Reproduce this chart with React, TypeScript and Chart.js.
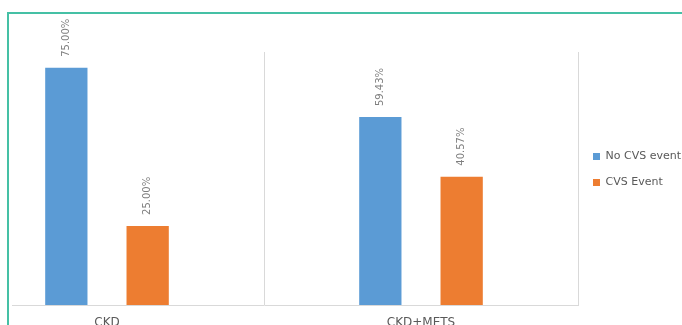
import { useEffect, useRef } from 'react';
import { Chart, registerables } from 'chart.js';

Chart.register(...registerables);

const categories = ['CKD', 'CKD+METS'];
const seriesNames = ['No CVS event', 'CVS Event'];
const noCvsEvent = [75.0, 59.43];
const cvsEvent = [25.0, 40.57];
const yMin = 0;
const yMax = 80;

const FONT = '"DejaVu Sans", "Noto Sans", sans-serif';

const valueLabels = {
  id: 'valueLabels',
  afterDatasetsDraw(chart: any) {
    const ctx = chart.ctx;
    chart.data.datasets.forEach((ds: any, di: number) => {
      const meta = chart.getDatasetMeta(di);
      meta.data.forEach((bar: any, i: number) => {
        const v = ds.data[i] as number;
        ctx.save();
        ctx.translate(bar.x, bar.y - 11);
        ctx.rotate(-Math.PI / 2);
        ctx.font = '10px ' + FONT;
        ctx.fillStyle = '#7F7F7F';
        ctx.textAlign = 'left';
        ctx.textBaseline = 'middle';
        ctx.fillText(v.toFixed(2) + '%', 0, 0);
        ctx.restore();
      });
    });
  },
};

function BarChart() {
  const ref = useRef<HTMLCanvasElement>(null);
  useEffect(() => {
    const chart = new Chart(ref.current as HTMLCanvasElement, {
      type: 'bar',
      data: {
        labels: categories,
        datasets: [
          { label: seriesNames[0], data: noCvsEvent, backgroundColor: '#5B9BD5', borderWidth: 0 },
          { label: seriesNames[1], data: cvsEvent, backgroundColor: '#ED7D31', borderWidth: 0 },
        ],
      },
      options: {
        responsive: false,
        animation: false,
        devicePixelRatio: 1,
        layout: { padding: { left: 0, right: 0, top: 52, bottom: 0.6 } },
        datasets: { bar: { categoryPercentage: 0.518, barPercentage: 0.52 } } as any,
        scales: {
          x: {
            offset: true,
            grid: { offset: true, color: '#D9D9D9', drawTicks: false, lineWidth: 1 },
            border: { color: '#D9D9D9', width: 1 },
            ticks: {
              padding: 11,
              color: '#595959',
              font: { family: FONT, size: 12 },
              maxRotation: 0,
              autoSkip: false,
            },
          },
          y: { display: false, min: yMin, max: yMax },
        },
        plugins: {
          legend: {
            position: 'right',
            align: 'start',
            maxWidth: 110,
            title: {
              display: true,
              text: '',
              font: { size: 10, lineHeight: 1 },
              padding: { top: 74, bottom: 0 },
            },
            labels: {
              boxWidth: 7,
              boxHeight: 7,
              padding: 15,
              color: '#595959',
              font: { family: FONT, size: 11 },
            },
          },
          tooltip: { enabled: false },
        },
      } as any,
      plugins: [valueLabels],
    });
    return () => chart.destroy();
  }, []);
  return (
    <canvas
      ref={ref}
      width={738}
      height={342}
      style={{ position: 'absolute', left: -62, top: 0, width: 738, height: 342 }}
    />
  );
}

export default function App() {
  return (
    <div
      style={{
        position: 'fixed',
        left: 0,
        top: 0,
        width: 682,
        height: 325,
        overflow: 'hidden',
        background: '#FFFFFF',
      }}
    >
      <div style={{ position: 'absolute', left: 12, top: 0, width: 670, height: 325, overflow: 'hidden' }}>
        <BarChart />
      </div>
      <div
        style={{
          position: 'absolute',
          left: 7,
          top: 12,
          width: 700,
          height: 400,
          borderTop: '2px solid #45C0A5',
          borderLeft: '2px solid #45C0A5',
          pointerEvents: 'none',
        }}
      />
    </div>
  );
}
